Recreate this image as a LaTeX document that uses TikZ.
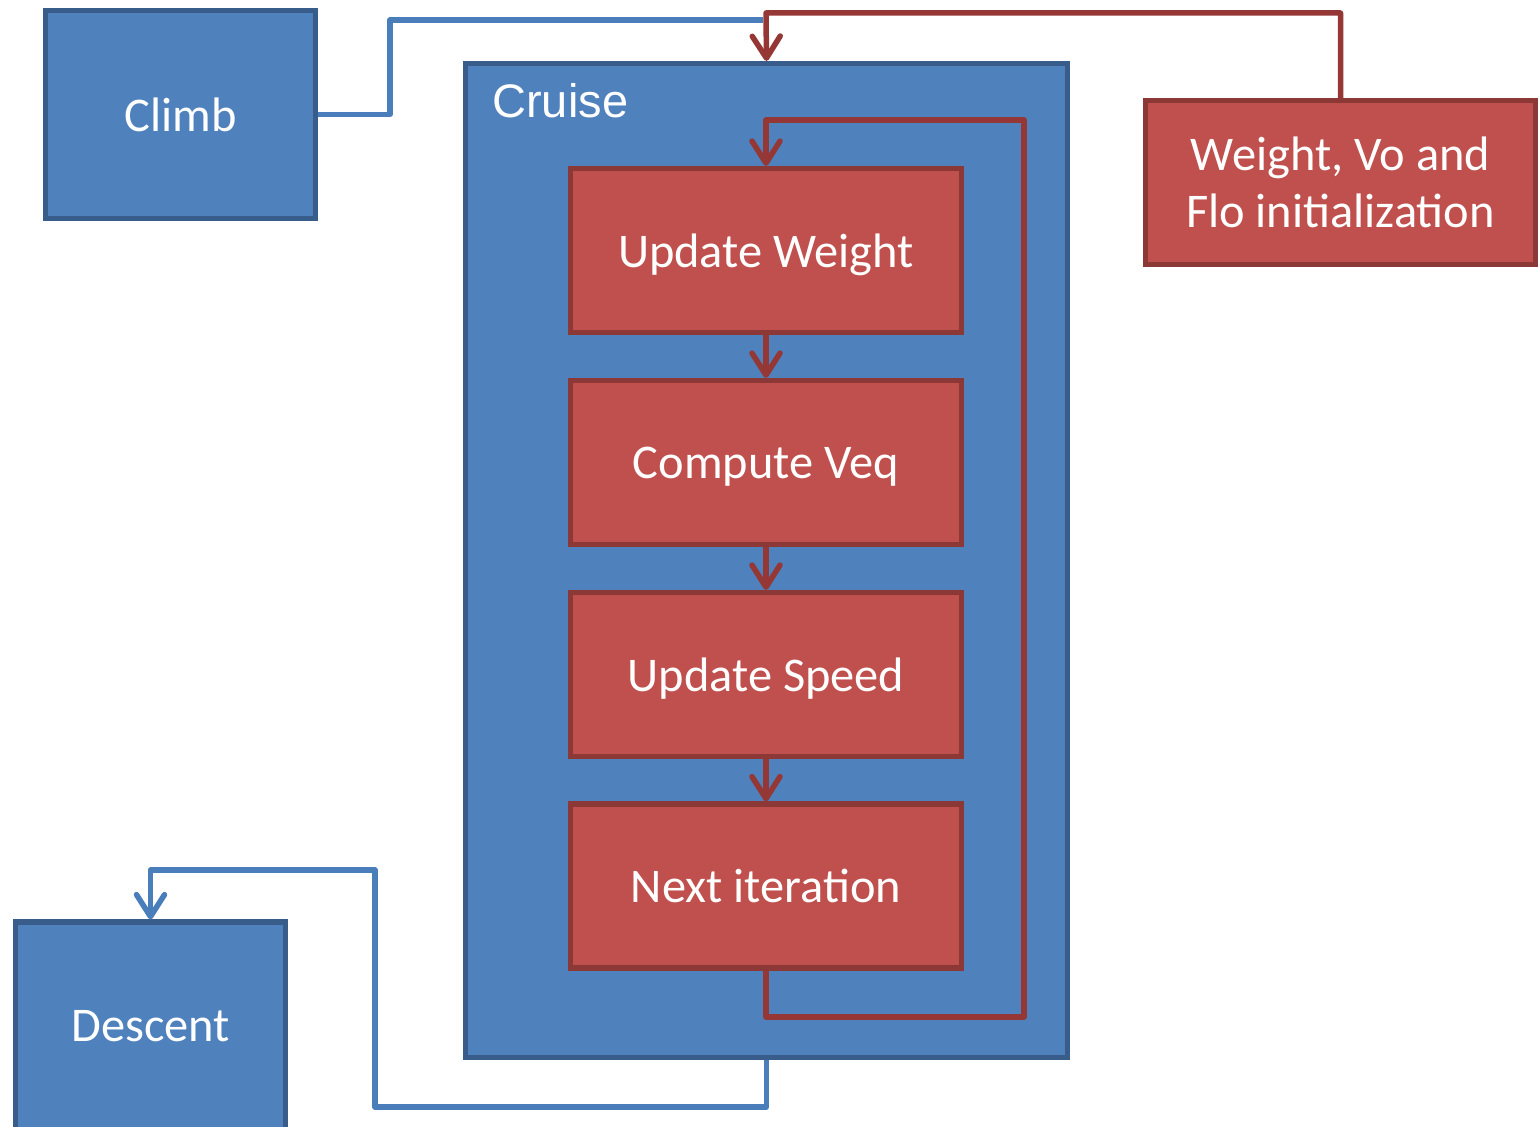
\documentclass[tikz,border=0pt]{standalone}
\usepackage{fontspec}
\setmainfont{Carlito}
\newfontfamily\arialfont{Liberation Sans}
\usetikzlibrary{arrows.meta}
\definecolor{bluefill}{HTML}{4F81BD}
\definecolor{blueedge}{HTML}{385D8A}
\definecolor{blueline}{HTML}{4A7EBB}
\definecolor{redfill}{HTML}{C0504D}
\definecolor{rededge}{HTML}{8C3836}
\definecolor{redline}{HTML}{953735}
\tikzset{
  labelfont/.style={font=\fontsize{24.2}{28.5}\selectfont},
  bluebox/.style={draw=blueedge, fill=bluefill, line width=2.6pt, text=white,
    inner sep=0pt, align=center, labelfont},
  redbox/.style={draw=rededge, fill=redfill, line width=2.6pt, text=white,
    inner sep=0pt, align=center, labelfont},
  stepbox/.style={redbox, minimum width=195.5pt, minimum height=82pt, text depth=0pt},
  tip/.style={-{Straight Barb[length=11pt,width=14pt,round]}},
  blueconn/.style={draw=blueline, line width=2.75pt, line join=round},
  redconn/.style={draw=redline, line width=2.75pt, line join=round},
}
\begin{document}
\begin{tikzpicture}[x=0.5pt, y=-0.5pt]
\useasboundingbox (0,0) rectangle (1539,1127);

% outer stages
\node[bluebox, minimum width=135pt, minimum height=104pt] (climb) at (180.5,114.5) {Climb};
\node[bluebox, minimum width=301pt, minimum height=497pt] (cruise) at (766.5,560.5) {};
\node[text=white, anchor=west, inner sep=0pt, font=\arialfont\fontsize{23.5}{28.5}\selectfont] (cruiselbl) at (492,101) {Cruise};
\node[bluebox, minimum width=135pt, minimum height=104pt] (descent) at (150.5,1026) {Descent};

% initialization block
\node[redbox, minimum width=195pt, minimum height=82pt] (init) at (1340.5,182.5) {Weight, Vo and\\Flo initialization};

% cruise loop steps
\node[stepbox] (upw) at (766,250.5) {Update Weight};
\node[stepbox] (veq) at (766,462.5) {Compute Veq};
\node[stepbox] (ups) at (766,674.5) {Update Speed};
\node[stepbox] (nxt) at (766,886) {Next iteration};

% routing points
\coordinate (c1) at (390,20);
\coordinate (c2) at (763,20);
\coordinate (r1) at (766,13);
\coordinate (lb) at (1024,1017);
\coordinate (lt) at (1024,120);
\coordinate (d1) at (375,1107);
\coordinate (d2) at (375,870);

% climb feeds the cruise entry
\draw[blueconn] (climb.east) -| (c1) -- (c2);
% initialization enters cruise
\draw[redconn, tip] (init.north) |- (r1) -- (cruise.north);
% step chain
\draw[redconn, tip] (upw) -- (veq);
\draw[redconn, tip] (veq) -- (ups);
\draw[redconn, tip] (ups) -- (nxt);
% iteration loop back
\draw[redconn, tip] (nxt.south) |- (lb) -- (lt) -| (upw.north);
% cruise to descent
\draw[blueconn, tip] (cruise.south) |- (d1) -- (d2) -| (descent.north);
\end{tikzpicture}
\end{document}
